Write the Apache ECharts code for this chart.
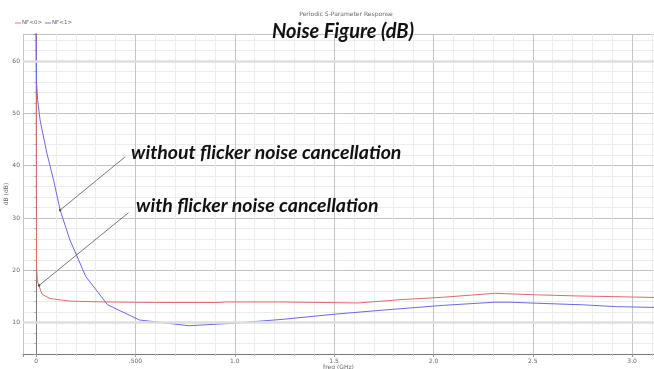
<!DOCTYPE html>
<html>
<head>
<meta charset="utf-8">
<script src="https://cdn.jsdelivr.net/npm/echarts@6/dist/echarts.min.js"></script>
<style>
  html, body { margin: 0; padding: 0; background: #fff; }
  #chart { width: 654px; height: 369px; }
</style>
</head>
<body>
<div id="chart"></div>
<script>
  // NF<0>: with flicker noise cancellation, NF<1>: without  [freq GHz, dB]
  var nf0 = [
    [0, 66], [0.002, 21], [0.006, 18], [0.015, 17], [0.03, 15.4], [0.07, 14.6],
    [0.17, 14.1], [0.34, 13.95], [0.6, 13.85], [0.93, 13.85], [0.95, 13.95],
    [1.22, 13.95], [1.23, 13.75], [1.62, 13.75], [1.84, 14.4], [2.05, 14.85],
    [2.31, 15.6], [2.52, 15.3], [2.72, 15.1], [3.12, 14.8]
  ];
  var nf1 = [
    [0, 66], [0.002, 56], [0.008, 52.5], [0.02, 48.7], [0.054, 42.4], [0.088, 37.2],
    [0.121, 31.5], [0.17, 25.8], [0.25, 18.8], [0.36, 13.4], [0.52, 10.5],
    [0.77, 9.4], [1.0, 9.9], [1.25, 10.65], [1.5, 11.6], [1.75, 12.4],
    [2.05, 13.3], [2.31, 13.9], [2.38, 13.9], [2.52, 13.7], [2.75, 13.4],
    [2.92, 13.05], [3.12, 12.9]
  ];
  var seriesNames = ["NF<0>", "NF<1>"];
  var boldLevels = [10, 60];
  // pointer lines: [text end, curve point]
  var pointerWithout = [[0.449, 41.7], [0.121, 31.5]];
  var pointerWith = [[0.465, 31.0], [0.015, 17.1]];

  var chartDom = echarts.init(document.getElementById("chart"));
  var gray = "#666", smallFont = 6;

  function xLabel(v){
    if (v === 0) return "0";
    if (Math.abs(v - 0.5) < 1e-9) return ".500";
    return v.toFixed(1);
  }

  function pointer(p){
    return [
      {coord: p[0], symbol: "none"},
      {coord: p[1], symbol: "circle", symbolSize: 2.5}
    ];
  }

  var option = {
    animation: false,
    title: [
      {text: "Periodic S-Parameter Response", left: 341, top: 6, textAlign: "center",
        textStyle: {fontSize: 6, fontWeight: "normal", color: gray, fontFamily: "DejaVu Sans"}},
      {text: "Noise Figure (dB)", left: 338, top: 17, textAlign: "center",
        textStyle: {fontSize: 20, fontWeight: "bold", fontStyle: "italic", color: "#111", fontFamily: "Lato"}}
    ],
    legend: {
      left: 10, top: 15, itemWidth: 6, itemHeight: 4, itemGap: 3,
      icon: "path://M0,1.5L10,1.5L10,3L0,3Z",
      textStyle: {fontSize: 5.5, color: gray, fontFamily: "DejaVu Sans", padding: [0, 0, 0, -4]},
      data: seriesNames
    },
    grid: {left: 23, top: 34, right: 0, bottom: 15, outerBoundsMode: "none", containLabel: false},
    xAxis: {
      type: "value", min: -0.066, max: 3.11, splitNumber: 6,
      name: "freq (GHz)", nameLocation: "middle", nameGap: 10, nameMoveOverlap: false,
      nameTextStyle: {fontSize: smallFont, color: gray, fontFamily: "DejaVu Sans"},
      axisLine: {lineStyle: {color: "#777"}},
      axisTick: {show: true, length: 3, lineStyle: {color: "#999"}},
      minorTick: {show: true, splitNumber: 5, length: 2, lineStyle: {color: "#bbb"}},
      axisLabel: {fontSize: smallFont, color: gray, margin: 4, fontFamily: "DejaVu Sans",
        showMinLabel: false, showMaxLabel: false, formatter: xLabel},
      splitLine: {show: true, lineStyle: {color: "#c4c4c4"}},
      minorSplitLine: {show: true, lineStyle: {color: "#ececec"}}
    },
    yAxis: {
      type: "value", min: 4, max: 65.15, splitNumber: 6,
      name: "dB (dB)", nameLocation: "middle", nameGap: 14, nameMoveOverlap: false,
      nameTextStyle: {fontSize: smallFont, color: gray, fontFamily: "DejaVu Sans"},
      axisLine: {show: true, lineStyle: {color: "#777"}},
      axisTick: {show: true, length: 3, lineStyle: {color: "#999"}},
      minorTick: {show: true, splitNumber: 5, length: 2, lineStyle: {color: "#bbb"}},
      axisLabel: {fontSize: smallFont, color: gray, margin: 3, fontFamily: "DejaVu Sans",
        showMinLabel: false, showMaxLabel: false},
      splitLine: {show: true, lineStyle: {color: "#c4c4c4"}},
      minorSplitLine: {show: true, lineStyle: {color: "#ececec"}}
    },
    graphic: [
      {type: "text", left: 131, top: 143, z: 100,
        style: {text: "without flicker noise cancellation", fill: "#111",
          font: "italic bold 19.5px Lato"}},
      {type: "text", left: 136, top: 196, z: 100,
        style: {text: "with flicker noise cancellation", fill: "#111",
          font: "italic bold 19.5px Lato"}}
    ],
    series: [
      {
        type: "line", name: "bold", data: [], z: 1, silent: true,
        markLine: {
          silent: true, symbol: "none", label: {show: false},
          lineStyle: {color: "#dedede", width: 2.5, type: "solid"},
          data: boldLevels.map(function(v){ return {yAxis: v}; })
        }
      },
      {
        type: "line", name: seriesNames[0], data: nf0, showSymbol: false, symbol: "none",
        lineStyle: {color: "#e06a6a", width: 1}, itemStyle: {color: "#e06a6a"}, z: 3,
        markLine: {
          silent: true, label: {show: false},
          lineStyle: {color: "#555", width: 0.8, type: "solid"},
          itemStyle: {color: "#444"},
          data: [pointer(pointerWith)]
        }
      },
      {
        type: "line", name: seriesNames[1], data: nf1, showSymbol: false, symbol: "none",
        lineStyle: {color: "#6a6ae0", width: 1}, itemStyle: {color: "#6a6ae0"}, z: 3,
        markLine: {
          silent: true, label: {show: false},
          lineStyle: {color: "#555", width: 0.8, type: "solid"},
          itemStyle: {color: "#444"},
          data: [pointer(pointerWithout)]
        }
      }
    ]
  };

  chartDom.setOption(option);
</script>
</body>
</html>
